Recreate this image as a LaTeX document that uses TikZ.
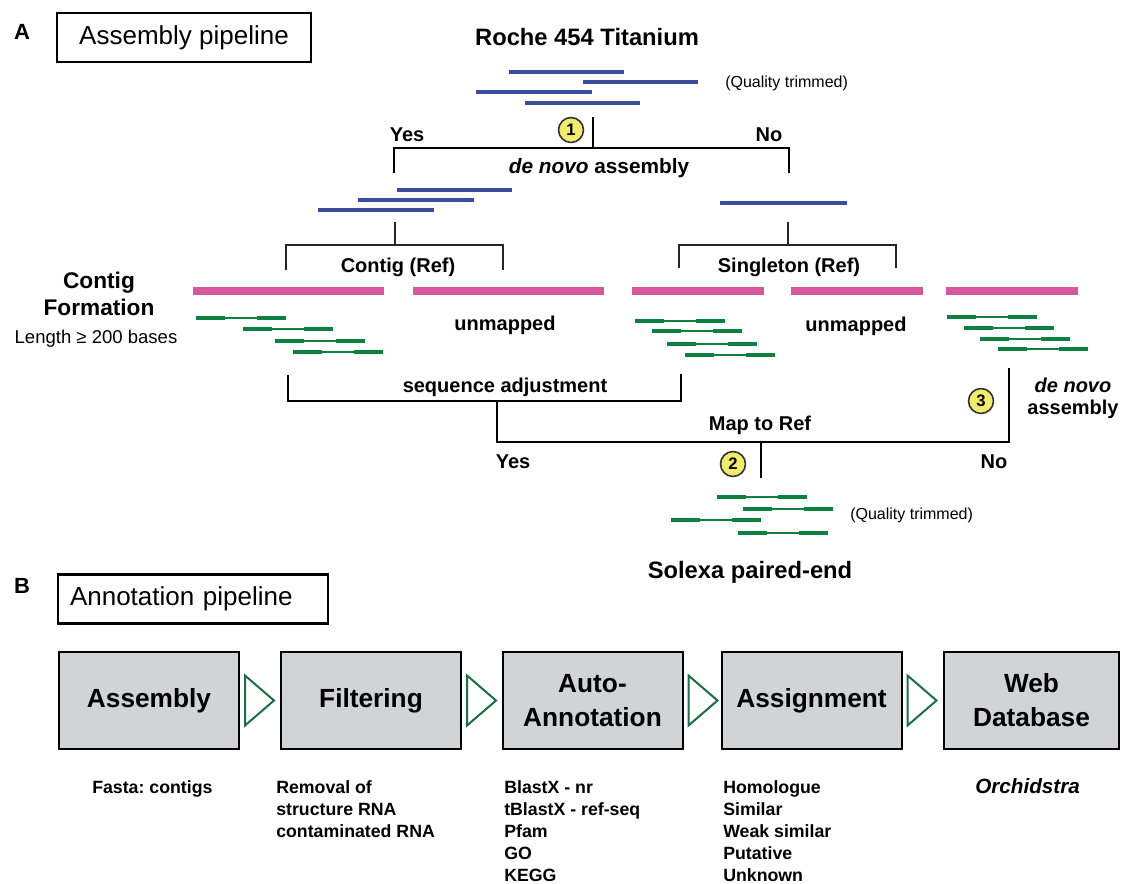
\documentclass[tikz,border=0pt]{standalone}
\usepackage{fontspec}
\setmainfont{Liberation Sans}
\usetikzlibrary{calc}
\frenchspacing
\definecolor{readblue}{RGB}{58,78,160}
\definecolor{refpink}{RGB}{214,88,158}
\definecolor{pairgreen}{RGB}{12,128,64}
\definecolor{circyellow}{RGB}{240,236,110}
\definecolor{boxgray}{RGB}{209,211,212}
\definecolor{arrowgreen}{RGB}{28,110,72}
\newcommand{\pairedread}[2]{%
  \draw[glink] (#1+29,#2) -- (#1+61,#2);
  \draw[gseg] (#1,#2) -- (#1+29,#2) (#1+61,#2) -- (#1+90,#2);}
\begin{document}
\begin{tikzpicture}[x=0.75pt,y=-0.75pt,
  panel/.style={font=\bfseries\fontsize{16.5}{20}\selectfont, anchor=base, inner sep=0},
  titlebox/.style={draw, line width=1.8pt, minimum height=36.5pt, font=\fontsize{19.5}{23}\selectfont},
  bigl/.style={font=\bfseries\fontsize{17.8}{21}\selectfont, anchor=base, inner sep=0},
  lbl/.style={font=\bfseries\fontsize{15}{18}\selectfont, anchor=base, inner sep=0},
  cfl/.style={font=\bfseries\fontsize{17}{20}\selectfont, anchor=base, inner sep=0},
  reg/.style={font=\fontsize{13.9}{16}\selectfont, anchor=base, inner sep=0},
  qual/.style={font=\fontsize{12}{14}\selectfont, anchor=base west, inner sep=0},
  listtxt/.style={font=\bfseries\fontsize{13.3}{16}\selectfont, anchor=base west, inner sep=0},
  blueread/.style={readblue, line width=3.3pt},
  pinkbar/.style={refpink, line width=5.4pt},
  gseg/.style={pairgreen, line width=3.1pt},
  glink/.style={pairgreen, line width=0.8pt},
  bracket/.style={black, line width=1.6pt, line join=miter},
  thinbracket/.style={black!85, line width=0.9pt, line join=miter},
  numcirc/.style={circle, draw=black!80, line width=1.2pt, fill=circyellow, minimum size=18.7pt, inner sep=0, font=\bfseries\fontsize{12.5}{14}\selectfont},
  stage/.style={draw, line width=1.5pt, fill=boxgray, minimum width=135pt, minimum height=72.5pt, align=center, inner sep=0, font=\bfseries\fontsize{19.7}{25.5}\selectfont},
  tri/.style={draw=arrowgreen, line width=1.5pt, fill=white, line join=miter}]
\useasboundingbox (0,0) rectangle (1121,883);
\fill[white] (0,0) rectangle (1121,883);

% ---------------- Panel A ----------------
\node[panel] (pA) at (22,39) {A};
\node[titlebox, minimum width=190.5pt] (tA) at (184,37.5) {Assembly pipeline};
\node[bigl] (roche) at (587,45) {Roche 454 Titanium};
\foreach \a/\b/\y in {509/624/72, 583/698/82, 476/592/92, 525/640/103}
  \draw[blueread] (\a,\y) -- (\b,\y);
\node[qual] (q1) at (725,87) {(Quality trimmed)};

% first de novo split
\coordinate (rtop) at (593,117);
\coordinate (rj) at (593,148);
\coordinate (yesend) at (394,173);
\coordinate (noend) at (789,173);
\draw[bracket] (rtop) -- (rj);
\draw[bracket] (yesend) |- (rj) -| (noend);
\node[numcirc] (c1) at (571,130) {1};
\node[lbl] (yes1) at (407,141) {Yes};
\node[lbl] (no1) at (769,141) {No};
\node[lbl, font=\bfseries\fontsize{15.6}{18}\selectfont] (dn1) at (599,173) {\textit{de novo} assembly};

% contigs / singleton
\foreach \a/\b/\y in {397/512/190, 358/474/200, 318/434/210}
  \draw[blueread] (\a,\y) -- (\b,\y);
\draw[blueread] (720,203) -- (847,203);

\coordinate (ctop) at (395,222);
\coordinate (cj) at (395,245);
\coordinate (cl) at (286,270);
\coordinate (cr) at (503,270);
\draw[thinbracket] (ctop) -- (cj);
\draw[thinbracket] (cl) |- (cj) -| (cr);
\coordinate (stop) at (788,222);
\coordinate (sj) at (788,245);
\coordinate (sl) at (679,268);
\coordinate (sr) at (896,268);
\draw[thinbracket] (stop) -- (sj);
\draw[thinbracket] (sl) |- (sj) -| (sr);
\node[lbl] (cref) at (398,272) {Contig (Ref)};
\node[lbl] (sref) at (789,272) {Singleton (Ref)};

% reference bars
\foreach \a/\b in {193/384, 413/604, 632/764, 791/923, 946/1078}
  \draw[pinkbar] (\a,291) -- (\b,291);

% paired reads
\foreach \x/\y in {196/318, 243/329, 275/341, 293/352,
                   635/321, 652/331, 667/344, 685/355,
                   947/317, 964/328, 980/339, 998/349}
  {\pairedread{\x}{\y}}
\node[lbl] (un1) at (505,330) {unmapped};
\node[lbl] (un2) at (856,331) {unmapped};

\node[cfl] (cf1) at (99,288) {Contig};
\node[cfl] (cf2) at (99,315) {Formation};
\node[reg] (len) at (96,343) {Length ≥ 200 bases};

% sequence adjustment and map to ref
\coordinate (sal) at (288,375);
\coordinate (sar) at (681,374);
\coordinate (saj) at (497,401);
\coordinate (mrl) at (497,442);
\coordinate (mrr) at (1009,368);
\coordinate (mrj) at (761,442);
\coordinate (mrb) at (761,478);
\draw[bracket] (sal) |- (saj) -| (sar);
\draw[bracket] (saj) -- (mrl) -| (mrr);
\draw[bracket] (mrj) -- (mrb);
\node[lbl] (seqadj) at (505,392) {sequence adjustment};
\node[lbl] (mapref) at (760,430) {Map to Ref};
\node[numcirc] (c3) at (981,401) {3};
\node[lbl] (dn2a) at (1073,392) {\textit{de novo}};
\node[lbl] (dn2b) at (1073,414) {assembly};
\node[numcirc] (c2) at (733,464) {2};
\node[lbl] (yes2) at (513,468) {Yes};
\node[lbl] (no2) at (994,468) {No};

\foreach \x/\y in {717/497, 743/509, 671/520, 738/533}
  {\pairedread{\x}{\y}}
\node[qual] (q2) at (850,519) {(Quality trimmed)};
\node[bigl] (solexa) at (750,578) {Solexa paired-end};

% ---------------- Panel B ----------------
\node[panel] (pB) at (22,593) {B};
\node[titlebox, text width=184.5pt, inner xsep=9pt, align=left] (tB) at (193,599) {Annotation pipeline};

\node[stage] (b1) at (149,700.5) {Assembly};
\node[stage] (b2) at (371,700.5) {Filtering};
\node[stage] (b3) at (592.5,700.5) {Auto-\\Annotation};
\node[stage] (b4) at (811.5,700.5) {Assignment};
\node[stage, minimum width=131pt] (b5) at (1031.5,700.5) {Web\\Database};
\foreach \b in {b1,b2,b3,b4}
  \draw[tri] ($(\b.east)+(5,-25)$) -- ($(\b.east)+(34,0)$) -- ($(\b.east)+(5,25)$) -- cycle;

\node[listtxt] (l1) at (92,793) {Fasta: contigs};
\foreach \t [count=\i from 0] in {Removal of, structure RNA, contaminated RNA}
  \node[listtxt] (l2-\i) at (276,793+22*\i) {\t};
\foreach \t [count=\i from 0] in {BlastX - nr, tBlastX - ref-seq, Pfam, GO, KEGG}
  \node[listtxt] (l3-\i) at (504,793+22*\i) {\t};
\foreach \t [count=\i from 0] in {Homologue, Similar, Weak similar, Putative, Unknown}
  \node[listtxt] (l4-\i) at (723,793+22*\i) {\t};
\node[listtxt, font=\bfseries\itshape\fontsize{15.5}{18}\selectfont] (l5) at (975,793) {Orchidstra};
\end{tikzpicture}
\end{document}
